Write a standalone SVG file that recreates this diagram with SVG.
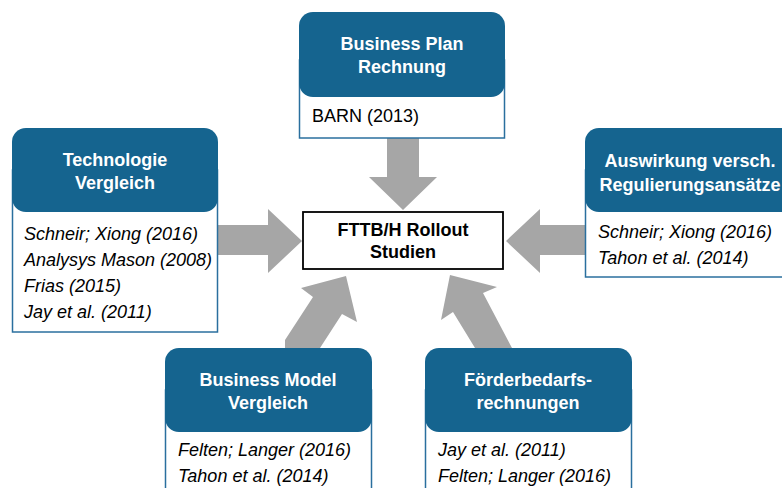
<svg xmlns="http://www.w3.org/2000/svg" width="782" height="488" viewBox="0 0 782 488">
  <style>
    .card { fill: #ffffff; stroke: #2a6f9e; stroke-width: 1.5; }
    .head { fill: #15648f; }
    .ht { font-family: "Liberation Sans", Arial, sans-serif; font-size: 18px; font-weight: bold; fill: #ffffff; text-anchor: middle; }
    .lt { font-family: "Liberation Sans", Arial, sans-serif; font-size: 18px; fill: #000000; }
    .it { font-style: italic; }
    .arrow { fill: #a6a6a6; }
    .center { fill: #ffffff; stroke: #000000; stroke-width: 1.8; }
    .ct { font-family: "Liberation Sans", Arial, sans-serif; font-size: 18px; font-weight: bold; fill: #000000; text-anchor: middle; }
  </style>

  <!-- block arrows pointing at the central box -->
  <g id="connectors">
    <polygon class="arrow" points="387,138 419,138 419,177 437,177 403,210 369,177 387,177"/>
    <polygon class="arrow" points="218,225 268,225 268,209 302,241 268,273 268,255 218,255"/>
    <polygon class="arrow" points="585,225 540,225 540,209 506,241 540,273 540,255 585,255"/>
    <polygon class="arrow" points="285,348 320,348 342,314 357,322 346,276 301,288 313,297 285,340"/>
    <polygon class="arrow" points="473,348 512,348 483,293 497,287 450,275 441,320 453,312 475,348"/>
  </g>

  <g id="business-plan">
    <rect class="card" x="299.5" y="60" width="205" height="78"/>
    <rect class="head" x="299" y="12" width="206" height="85" rx="14"/>
    <text class="ht" x="402" y="50">Business Plan</text>
    <text class="ht" x="402" y="73">Rechnung</text>
    <text class="lt" x="312" y="122">BARN (2013)</text>
  </g>

  <g id="technologie">
    <rect class="card" x="12.5" y="170" width="205" height="162"/>
    <rect class="head" x="12" y="128" width="206" height="84" rx="14"/>
    <text class="ht" x="115" y="166">Technologie</text>
    <text class="ht" x="115" y="189">Vergleich</text>
    <text class="lt it" x="24" y="240">Schneir; Xiong (2016)</text>
    <text class="lt it" x="24" y="266">Analysys Mason (2008)</text>
    <text class="lt it" x="24" y="292">Frias (2015)</text>
    <text class="lt it" x="24" y="318">Jay et al. (2011)</text>
  </g>

  <g id="regulierung">
    <rect class="card" x="585.5" y="170" width="210" height="107"/>
    <rect class="head" x="585" y="128" width="212" height="84" rx="14"/>
    <text class="ht" x="690" y="167">Auswirkung versch.</text>
    <text class="ht" x="690" y="191">Regulierungsansätze</text>
    <text class="lt it" x="598" y="238">Schneir; Xiong (2016)</text>
    <text class="lt it" x="598" y="264">Tahon et al. (2014)</text>
  </g>

  <g id="business-model">
    <rect class="card" x="165.5" y="390" width="206" height="110"/>
    <rect class="head" x="165" y="348" width="207" height="84" rx="14"/>
    <text class="ht" x="268" y="386">Business Model</text>
    <text class="ht" x="268" y="409">Vergleich</text>
    <text class="lt it" x="178" y="456">Felten; Langer (2016)</text>
    <text class="lt it" x="178" y="482">Tahon et al. (2014)</text>
  </g>

  <g id="foerderbedarf">
    <rect class="card" x="425.5" y="390" width="206" height="110"/>
    <rect class="head" x="425" y="348" width="207" height="84" rx="14"/>
    <text class="ht" x="528" y="386">Förderbedarfs-</text>
    <text class="ht" x="528" y="409">rechnungen</text>
    <text class="lt it" x="438" y="456">Jay et al. (2011)</text>
    <text class="lt it" x="438" y="482">Felten; Langer (2016)</text>
  </g>

  <g id="fttb-rollout">
    <rect class="center" x="303" y="212" width="200" height="57"/>
    <text class="ct" x="403" y="236">FTTB/H Rollout</text>
    <text class="ct" x="403" y="258">Studien</text>
  </g>
</svg>
